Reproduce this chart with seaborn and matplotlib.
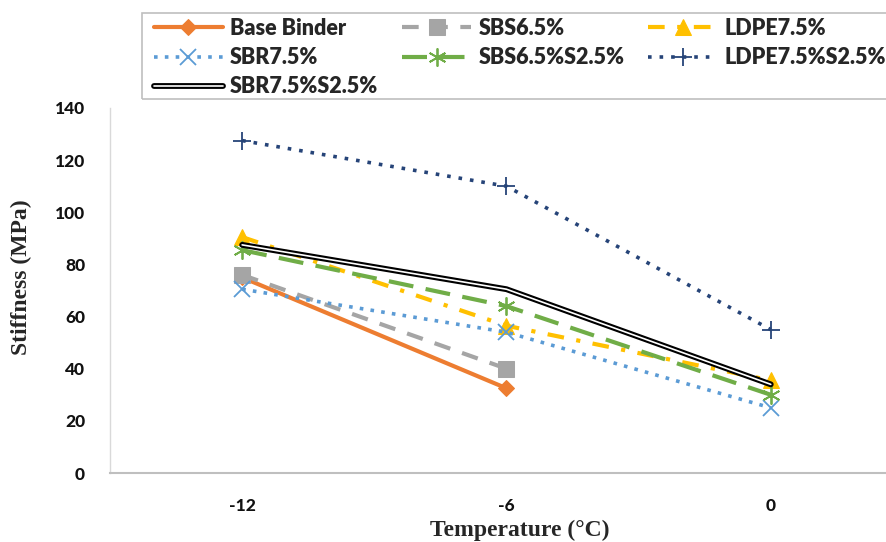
import matplotlib
matplotlib.use("Agg")
import matplotlib.pyplot as plt
import matplotlib.patheffects as pe
from matplotlib.patches import Rectangle
import seaborn as sns
import pandas as pd

# Stiffness (MPa) of binders at low temperatures
temperatures = ["-12", "-6", "0"]
base_binder = [75, 32.5]
sbs65 = [76, 40]
ldpe75 = [90.5, 56.5, 35.5]
sbr75 = [70.5, 54, 25]
sbs65_s25 = [85.5, 64, 30]
ldpe75_s25 = [127.5, 110, 55]
sbr75_s25 = [87.5, 70.5, 34]

series_names = ["Base Binder", "SBS6.5%", "LDPE7.5%", "SBR7.5%",
                "SBS6.5%S2.5%", "LDPE7.5%S2.5%", "SBR7.5%S2.5%"]
series_values = [base_binder, sbs65, ldpe75, sbr75, sbs65_s25, ldpe75_s25, sbr75_s25]
y_ticks = [0, 20, 40, 60, 80, 100, 120, 140]

sns.set_theme(style="white")
sans = "Lato"
plt.rcParams["font.family"] = [sans, "DejaVu Sans"]
plt.rcParams["font.weight"] = "heavy"

styles = {
    "Base Binder": dict(color="#ED7D31", ls="-", lw=3.0, marker="D", ms=8, mec="#ED7D31"),
    "SBS6.5%": dict(color="#A5A5A5", ls=(0, (4, 3)), lw=3.0, marker="s", ms=12, mec="#A5A5A5"),
    "LDPE7.5%": dict(color="#FFC000", ls=(0, (4, 3, 1, 3)), lw=3.0, marker="^", ms=12, mec="#FFC000"),
    "SBR7.5%": dict(color="#5B9BD5", ls=(0, (1, 2)), lw=2.6, marker="x", ms=11, mew=1.3, mec="#5B9BD5"),
    "SBS6.5%S2.5%": dict(color="#70AD47", ls=(0, (6, 3)), lw=3.0, marker=(6, 2, 0), ms=13, mew=1.3, mec="#70AD47"),
    "LDPE7.5%S2.5%": dict(color="#264478", ls=(0, (1, 2.2)), lw=2.6, marker="+", ms=13, mew=1.3, mec="#264478"),
}

fig = plt.figure(figsize=(8.86, 5.42), dpi=100)
ax = fig.add_axes([110 / 886, 69 / 542, 776 / 886, 365 / 542])

for name, vals in zip(series_names, series_values):
    df = pd.DataFrame({"Temperature": temperatures[:len(vals)], "Stiffness": vals})
    if name == "SBR7.5%S2.5%":
        # double black outline line
        sns.lineplot(data=df, x="Temperature", y="Stiffness", ax=ax, color="white",
                     lw=1.2, sort=False, label=name, zorder=3,
                     path_effects=[pe.Stroke(linewidth=4.2, foreground="black"), pe.Normal()])
    else:
        sns.lineplot(data=df, x="Temperature", y="Stiffness", ax=ax, sort=False,
                     label=name, zorder=2, **styles[name])

ax.set_xlim(-0.5, 2.436)
ax.set_ylim(0, 140)
ax.set_xticks(range(len(temperatures)))
ax.set_xticklabels(temperatures, fontweight="black", fontsize=12.5, color="#111111")
ax.set_yticks(y_ticks)
ax.set_yticklabels([str(v) for v in y_ticks], fontweight="black", fontsize=12.5, color="#111111")
ax.tick_params(axis="y", length=0, pad=18)
ax.tick_params(axis="x", length=0, pad=18)

for side in ["top", "right"]:
    ax.spines[side].set_visible(False)
ax.spines["left"].set_color("#D9D9D9")
ax.spines["left"].set_linewidth(1.0)
ax.spines["bottom"].set_color("#BFBFBF")
ax.spines["bottom"].set_linewidth(1.5)
ax.grid(False)

ax.set_xlabel("Temperature (°C)", family="Liberation Serif", fontweight="bold", fontsize=17)
ax.set_ylabel("Stiffness (MPa)", family="Liberation Serif", fontweight="bold", fontsize=17)
ax.xaxis.set_label_coords(0.528, -0.128)
ax.yaxis.set_label_coords(-0.1, 0.537)

# legend laid out row by row: Base Binder, SBS6.5%, LDPE7.5% / SBR7.5%, ...
h, l = ax.get_legend_handles_labels()
order = [0, 3, 6, 1, 4, 2, 5]
leg = ax.legend([h[i] for i in order], [l[i] for i in order], ncol=3, loc="upper left",
                bbox_to_anchor=(154 / 886, 1 - 18 / 542),
                bbox_transform=fig.transFigure, frameon=False,
                prop={"family": sans, "weight": "heavy", "size": 15.5},
                handlelength=3.2, handletextpad=0.33, columnspacing=1.12,
                labelspacing=0.38, borderpad=0, borderaxespad=0)

# legend border box
fig.patches.append(Rectangle((142 / 886, 1 - 99 / 542), 760 / 886, 86 / 542,
                             transform=fig.transFigure, fill=False,
                             edgecolor="#BFBFBF", linewidth=1.2))

fig.savefig("out.png", dpi=100)
